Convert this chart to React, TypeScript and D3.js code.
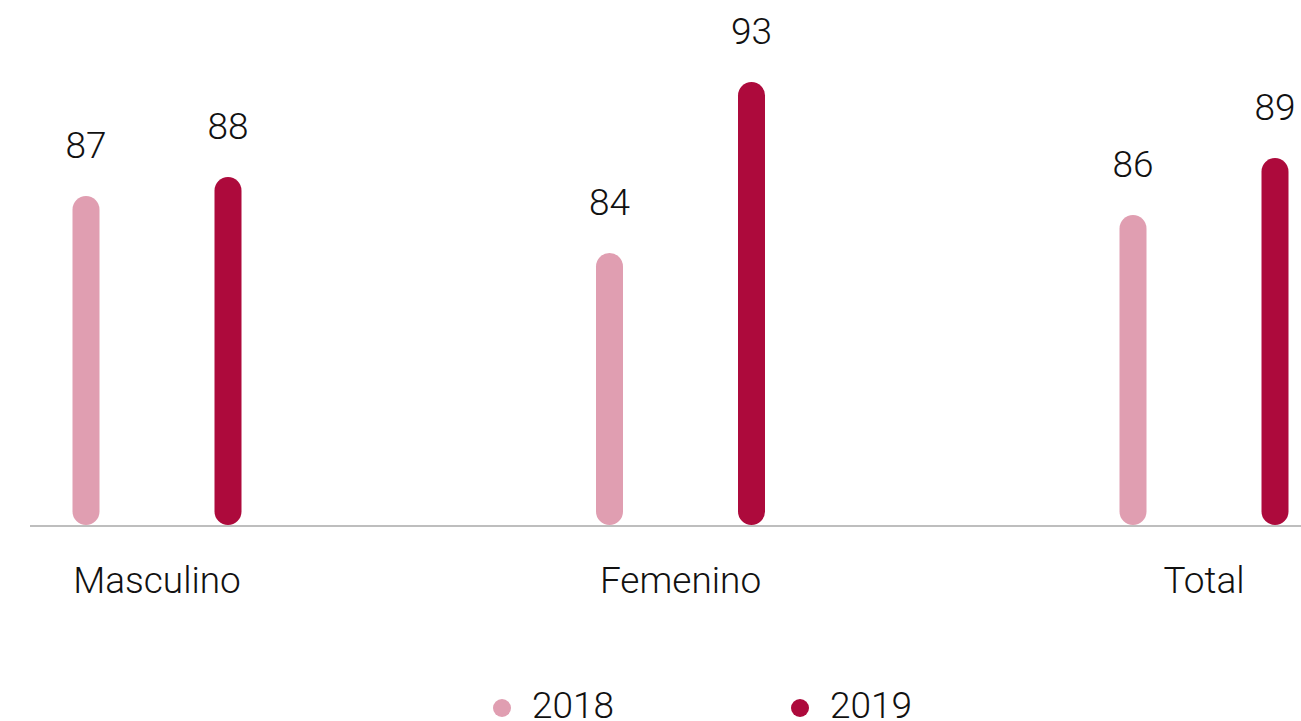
import React from "react";
import * as d3 from "d3";

const categories = ["Masculino", "Femenino", "Total"];
const seriesNames = ["2018", "2019"];
const values2018 = [87, 84, 86];
const values2019 = [88, 93, 89];
const colors = ["#e09eb1", "#ad0a3c"];

const W = 1301;
const H = 721;

export default function App() {
  const x = d3.scalePoint<string>().domain(categories).range([157, 1204]);
  const xi = d3.scalePoint<string>().domain(seriesNames).range([-71, 71]);
  const y = d3.scaleLinear().domain([70, 93]).range([519, 82]);
  const baseY = 525;
  const barW = 27;
  const series = [values2018, values2019];
  const font = "'Roboto Light', Roboto, 'Noto Sans', sans-serif";

  return (
    <svg
      width={W}
      height={H}
      style={{ position: "absolute", left: 0, top: 0, background: "#fff" }}
      fontFamily={font}
    >
      <line x1={30} x2={W} y1={526} y2={526} stroke="#a8a8a8" strokeWidth={1.5} />
      {categories.map((c, ci) => (
        <g key={c}>
          {seriesNames.map((s, si) => {
            const v = series[si][ci];
            const cx = (x(c) as number) + (xi(s) as number);
            const top = y(v);
            return (
              <g key={s}>
                <rect
                  x={cx - barW / 2}
                  y={top}
                  width={barW}
                  height={baseY - top}
                  rx={barW / 2}
                  ry={barW / 2}
                  fill={colors[si]}
                />
                <text
                  x={cx}
                  y={top - 38}
                  textAnchor="middle"
                  fontSize={37}
                  fontWeight={300}
                  fill="#111"
                >
                  {v}
                </text>
              </g>
            );
          })}
          <text
            x={x(c) as number}
            y={593}
            textAnchor="middle"
            fontSize={37}
            fontWeight={300}
            fill="#111"
          >
            {c}
          </text>
        </g>
      ))}
      {seriesNames.map((s, si) => {
        const lx = 502 + si * 298;
        return (
          <g key={s}>
            <circle cx={lx} cy={708} r={9} fill={colors[si]} />
            <text x={lx + 30} y={718} fontSize={37} fontWeight={300} fill="#111">
              {s}
            </text>
          </g>
        );
      })}
    </svg>
  );
}
